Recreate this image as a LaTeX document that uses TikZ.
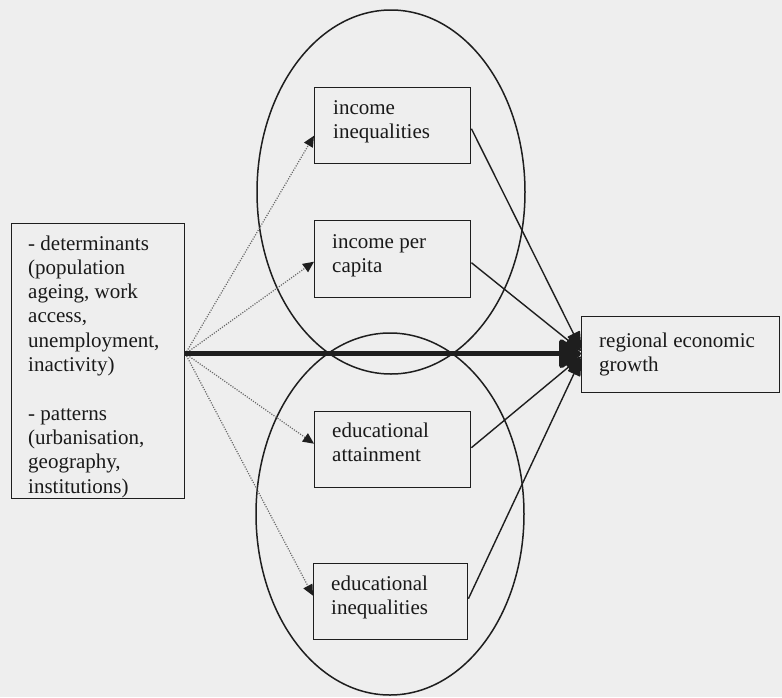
\documentclass[tikz,border=0pt]{standalone}
\usepackage{fontspec}
\setmainfont{Liberation Serif}
\usetikzlibrary{arrows.meta,calc}
\definecolor{bg}{RGB}{238,238,238}
\definecolor{ink}{RGB}{30,30,30}
\begin{document}
\begin{tikzpicture}[x=1pt,y=-1pt,
  box/.style={draw=ink, line width=1.4pt, inner sep=0pt, anchor=north west},
  txt/.style={anchor=base west, inner sep=0pt, text=black!90,
              font=\fontsize{21}{24.3}\selectfont},
  ring/.style={draw=ink, line width=1.5pt},
  dotarrow/.style={draw=black!60, line width=1.2pt, dash pattern=on 1.1pt off 1.4pt,
                   -{Triangle[length=11pt,width=10pt,color=ink,fill=ink]}},
  solidarrow/.style={draw=ink, line width=1.4pt,
                   -{Triangle[length=18pt,width=14pt,color=ink,fill=ink,round]}},
  mainarrow/.style={draw=ink, line width=5pt,
                   -{Triangle[length=24pt,width=32pt,color=ink,fill=ink,round]}}]
\fill[bg] (0,0) rectangle (782,697);
\useasboundingbox (0,0) rectangle (782,697);

% ellipses
\draw[ring] (391,192) ellipse [x radius=134, y radius=182];
\draw[ring] (390,514) ellipse [x radius=134, y radius=181];

% boxes
\node[box, minimum width=173pt, minimum height=275pt] (lb) at (11,223) {};
\node[box, minimum width=156pt, minimum height=76pt] (ii) at (314,87) {};
\node[box, minimum width=156pt, minimum height=77pt] (ipc) at (314,220) {};
\node[box, minimum width=156pt, minimum height=76pt] (ea) at (314,411) {};
\node[box, minimum width=154pt, minimum height=76pt] (ei) at (313,563) {};
\node[box, minimum width=198pt, minimum height=76pt] (rg) at (581,316) {};

% texts
\node[txt] (lbt) at (28,250) {\begin{tabular}[t]{@{}l@{}}- determinants\\(population\\ageing, work\\access,\\unemployment,\\inactivity)\\ \\- patterns\\(urbanisation,\\geography,\\institutions)\end{tabular}};
\node[txt] (iit) at (333,114) {\begin{tabular}[t]{@{}l@{}}income\\inequalities\end{tabular}};
\node[txt] (ipct) at (332,248) {\begin{tabular}[t]{@{}l@{}}income per\\capita\end{tabular}};
\node[txt] (eat) at (332,437) {\begin{tabular}[t]{@{}l@{}}educational\\attainment\end{tabular}};
\node[txt] (eit) at (331,590) {\begin{tabular}[t]{@{}l@{}}educational\\inequalities\end{tabular}};
\node[txt] (rgt) at (599,347) {\begin{tabular}[t]{@{}l@{}}regional economic\\growth\end{tabular}};

% dotted arrows
\draw[dotarrow] ([yshift=7.5pt]lb.east) -- ([yshift=-10pt]ii.west);
\draw[dotarrow] ([yshift=7.5pt]lb.east) -- ([yshift=-2.5pt]ipc.west);
\draw[dotarrow] ([yshift=7.5pt]lb.east) -- ([yshift=6pt]ea.west);
\draw[dotarrow] ([yshift=7.5pt]lb.east) -- ([yshift=6pt]ei.west);

% solid arrows
\draw[solidarrow] ([yshift=-3pt]ii.east) -- ([yshift=6pt]rg.west);
\draw[solidarrow] ([yshift=-3.5pt]ipc.east) -- ([yshift=4pt]rg.west);
\draw[solidarrow] ([yshift=2pt]ea.east) -- ([yshift=-2pt]rg.west);
\draw[solidarrow] ([yshift=3pt]ei.east) -- ([yshift=-4pt]rg.west);

% main arrow
\draw[mainarrow] ([yshift=7.5pt]lb.east) -- ([yshift=1pt]rg.west);
\end{tikzpicture}
\end{document}
